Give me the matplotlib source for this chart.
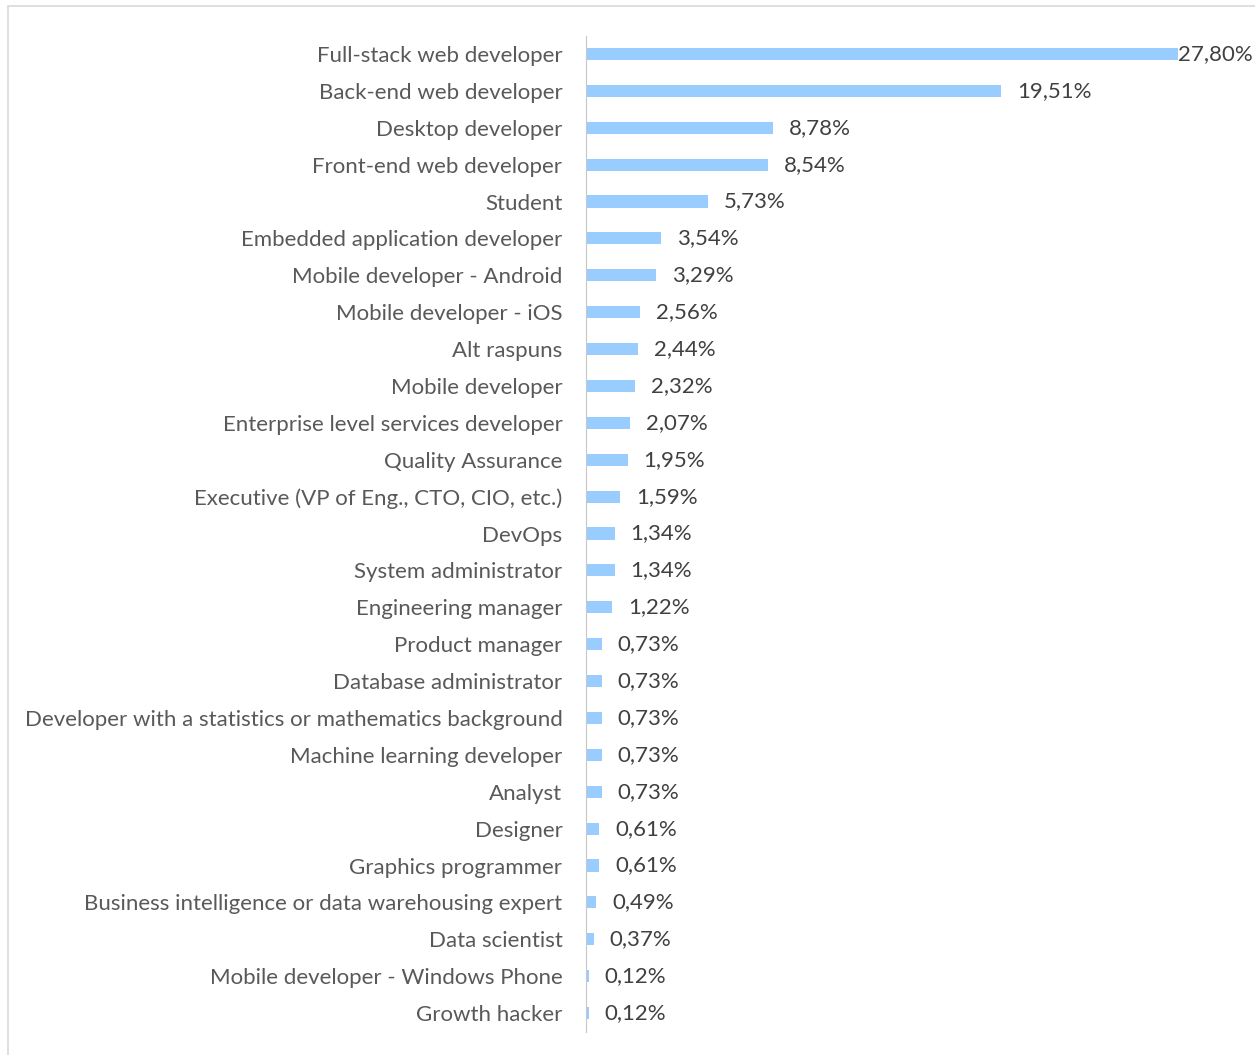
import matplotlib.pyplot as plt
from matplotlib.patches import Rectangle

roles = [
    "Full-stack web developer", "Back-end web developer", "Desktop developer",
    "Front-end web developer", "Student", "Embedded application developer",
    "Mobile developer - Android", "Mobile developer - iOS", "Alt raspuns",
    "Mobile developer", "Enterprise level services developer", "Quality Assurance",
    "Executive (VP of Eng., CTO, CIO, etc.)", "DevOps", "System administrator",
    "Engineering manager", "Product manager", "Database administrator",
    "Developer with a statistics or mathematics background",
    "Machine learning developer", "Analyst", "Designer", "Graphics programmer",
    "Business intelligence or data warehousing expert", "Data scientist",
    "Mobile developer - Windows Phone", "Growth hacker",
]
shares = [27.80, 19.51, 8.78, 8.54, 5.73, 3.54, 3.29, 2.56, 2.44, 2.32, 2.07, 1.95,
          1.59, 1.34, 1.34, 1.22, 0.73, 0.73, 0.73, 0.73, 0.73, 0.61, 0.61, 0.49,
          0.37, 0.12, 0.12]

plt.rcParams['font.family'] = ['Lato', 'DejaVu Sans']
W, H = 1255, 1055
fig = plt.figure(figsize=(W / 100, H / 100), dpi=100)

# chart frame (clipped at right / bottom like the original)
fig.patches.append(Rectangle((8 / W, -0.1), 1.2, 1 - 6 / H + 0.1,
                             transform=fig.transFigure, fill=False,
                             edgecolor='#d9d9d9', linewidth=1.2))

ax = fig.add_axes([586 / W, 1 - 1031.5 / H, 596 / W, 996 / H])
y = list(range(len(roles)))
ax.barh(y, shares, height=0.33, color='#99ccff')
ax.set_xlim(0, 28)
ax.set_ylim(len(roles) - 0.5, -0.5)
ax.set_yticks(y)
ax.set_yticklabels(roles, fontsize=16, color='#595959')
ax.tick_params(axis='y', length=0, pad=17)
ax.set_xticks([])
for s in ['top', 'right', 'bottom']:
    ax.spines[s].set_visible(False)
ax.spines['left'].set_color('#c8c8c8')

for i, v in enumerate(shares):
    off = 0 if v == max(shares) else 11.5
    ax.annotate('{:.2f}%'.format(v).replace('.', ','), (v, i),
                xytext=(off, 0), textcoords='offset points',
                va='center', ha='left', fontsize=16, color='#404040')

fig.savefig('out.png', dpi=100)
